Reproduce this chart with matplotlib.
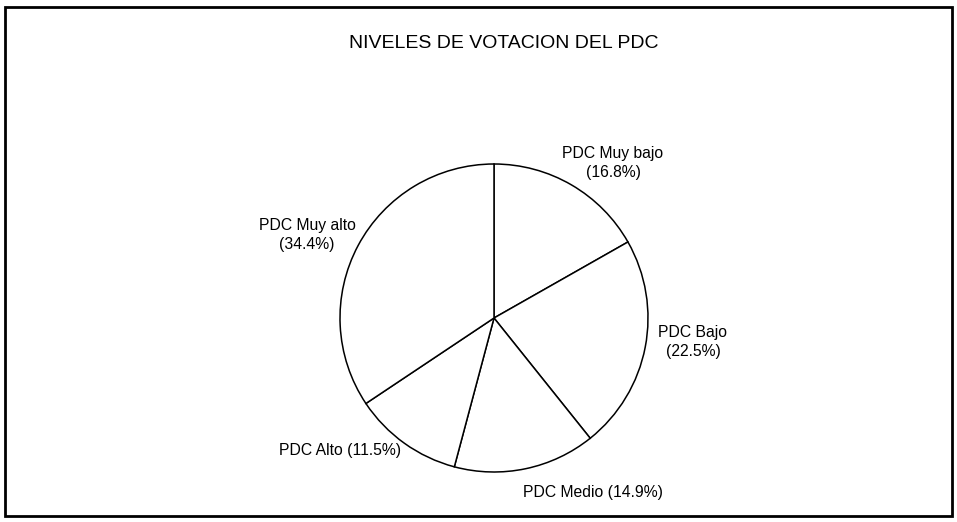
import matplotlib.pyplot as plt
from matplotlib.patches import Rectangle

categorias = ["PDC Muy bajo", "PDC Bajo", "PDC Medio", "PDC Alto", "PDC Muy alto"]
porcentajes = [16.8, 22.5, 14.9, 11.5, 34.4]
separador = ["\n", "\n", " ", " ", "\n"]

# label centres in pixels from the top-left corner
pos_etiquetas = [(613, 163), (693, 342), (593, 493), (340, 450), (307, 235)]

plt.rcParams['font.family'] = ['Liberation Sans', 'DejaVu Sans']

W, H = 957, 522
fig = plt.figure(figsize=(W / 100, H / 100), dpi=100)
ax = fig.add_axes([0, 0, 1, 1])

ax.pie(porcentajes, startangle=90, counterclock=False,
       center=(494, H - 318), radius=154,
       colors=["white"] * len(porcentajes),
       wedgeprops=dict(edgecolor="black", linewidth=1.1))

for cat, pct, sep, (x, y) in zip(categorias, porcentajes, separador, pos_etiquetas):
    ax.text(x, H - y, f"{cat}{sep}({pct:.1f}%)", ha="center", va="center",
            fontsize=11.3, linespacing=1.3)

ax.text(504, H - 44, "NIVELES DE VOTACION DEL PDC", ha="center", va="center",
        fontsize=14)

ax.add_patch(Rectangle((5, H - 516), 947, 509, fill=False, lw=2, ec="black"))

ax.set_xlim(0, W)
ax.set_ylim(0, H)
ax.axis("off")

plt.savefig("out.png", dpi=100)
